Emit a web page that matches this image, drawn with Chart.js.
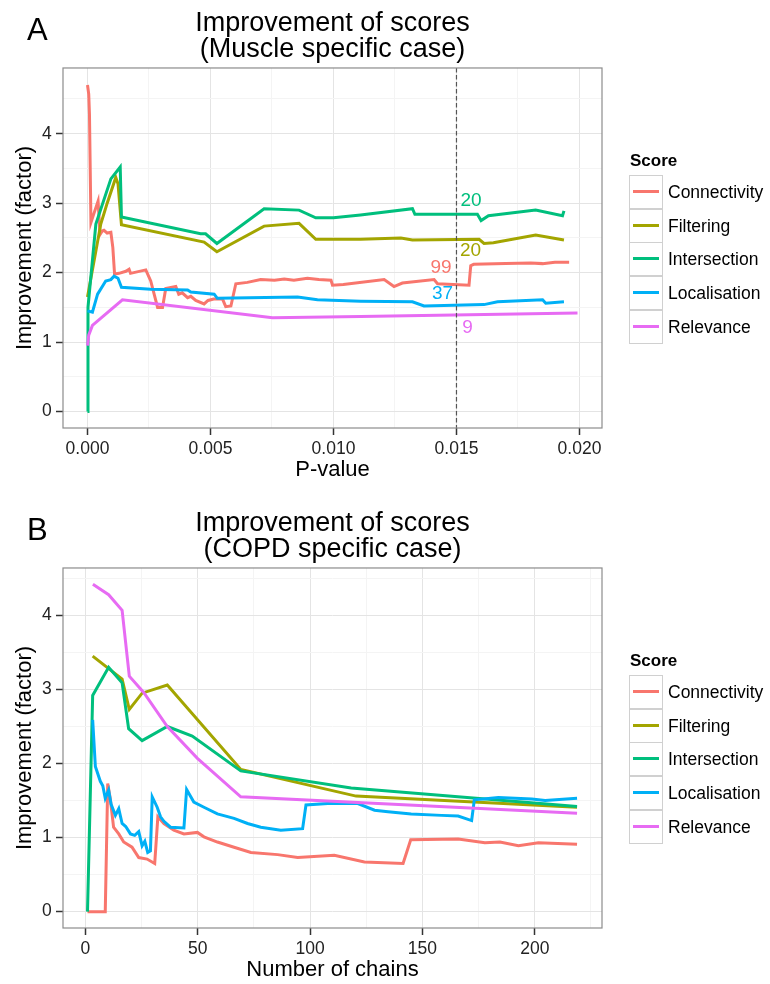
<!DOCTYPE html>
<html>
<head>
<meta charset="utf-8">
<script src="https://cdn.jsdelivr.net/npm/chart.js@4.4.1/dist/chart.umd.min.js"></script>
<style>
    body {
        margin: 0;
        width: 770px;
        height: 984px;
        overflow: hidden;
        background: #fff;
        font-family: "Liberation Sans", Arial, sans-serif;
        position: relative;
    }
    .panel {
        position: absolute;
        left: 0;
        width: 770px;
        height: 490px;
    }
    .panel canvas {
        position: absolute;
        left: 0;
        top: 0;
    }
    .letra {
        position: absolute;
        left: 27px;
        top: 14px;
        font-size: 31px;
        line-height: 31px;
        color: #000;
    }
    .leyenda-titulo {
        position: absolute;
        left: 630px;
        top: 151px;
        font-size: 17px;
        line-height: 20px;
        font-weight: bold;
        color: #000;
    }
    .caja {
        position: absolute;
        left: 629px;
        width: 34px;
        height: 34px;
        box-sizing: border-box;
        border: 1.5px solid #d0d0d0;
        background: #fff;
    }
    .caja span {
        position: absolute;
        left: 3px;
        right: 3px;
        top: 14px;
        height: 3px;
    }
    .etiqueta {
        position: absolute;
        left: 668px;
        font-size: 17.5px;
        line-height: 20px;
        color: #000;
    }
</style>
</head>
<body>

<div class="panel" id="panelA" style="top:0">
    <canvas id="graficaA" width="770" height="490"></canvas>
    <div class="letra">A</div>
</div>

<div class="panel" id="panelB" style="top:500px">
    <canvas id="graficaB" width="770" height="490"></canvas>
    <div class="letra">B</div>
</div>

<script>

/* ===================================== */
/* DATOS */
/* ===================================== */

const seriesNames = ["Connectivity", "Filtering", "Intersection", "Localisation", "Relevance"];

// Panel A: P-value
const connA_x = [0, 0.00005, 0.00008, 0.00014, 0.00027, 0.00043, 0.00051, 0.00060, 0.00067, 0.00080, 0.00095, 0.00103, 0.00110, 0.00128, 0.00156, 0.00169, 0.00175, 0.00237, 0.00257, 0.00285, 0.00305, 0.00318, 0.00359, 0.00371, 0.00385, 0.00407, 0.00420, 0.00440, 0.00474, 0.00490, 0.00513, 0.00549, 0.00562, 0.00583, 0.00603, 0.00650, 0.00704, 0.00760, 0.00800, 0.00839, 0.00894, 0.00940, 0.00990, 0.00996, 0.01040, 0.01206, 0.01246, 0.01280, 0.01409, 0.01423, 0.01551, 0.01558, 0.01570, 0.01700, 0.01802, 0.01850, 0.01900, 0.01958];
const connA_y = [4.70, 4.57, 4.28, 2.72, 2.86, 3.03, 2.55, 2.60, 2.61, 2.57, 2.58, 2.36, 1.98, 1.99, 2.02, 2.05, 1.99, 2.04, 1.88, 1.50, 1.50, 1.77, 1.80, 1.69, 1.71, 1.64, 1.66, 1.60, 1.55, 1.60, 1.62, 1.62, 1.51, 1.52, 1.84, 1.86, 1.90, 1.89, 1.91, 1.89, 1.92, 1.90, 1.89, 1.82, 1.83, 1.90, 1.80, 1.85, 1.90, 1.84, 1.82, 2.10, 2.12, 2.13, 2.14, 2.13, 2.15, 2.15];

const filtA_x = [0, 0.00054, 0.00080, 0.00115, 0.00124, 0.00138, 0.00474, 0.00526, 0.00718, 0.00860, 0.00928, 0.01110, 0.01274, 0.01321, 0.01592, 0.01612, 0.01650, 0.01822, 0.01937];
const filtA_y = [1.65, 2.70, 3.00, 3.37, 3.28, 2.69, 2.44, 2.30, 2.67, 2.71, 2.48, 2.48, 2.50, 2.47, 2.48, 2.42, 2.43, 2.54, 2.47];

const interA_x = [0, 0.00002, 0.00007, 0.00034, 0.00095, 0.00133, 0.00138, 0.00460, 0.00480, 0.00526, 0.00718, 0.00860, 0.00928, 0.01000, 0.01110, 0.01321, 0.01331, 0.01585, 0.01600, 0.01630, 0.01822, 0.01931, 0.01937];
const interA_y = [0, 1.50, 1.69, 2.70, 3.35, 3.52, 2.80, 2.56, 2.56, 2.42, 2.92, 2.90, 2.79, 2.79, 2.83, 2.92, 2.84, 2.84, 2.75, 2.82, 2.90, 2.82, 2.89];

const locA_x = [0, 0.00020, 0.00041, 0.00074, 0.00095, 0.00108, 0.00124, 0.00138, 0.00257, 0.00407, 0.00420, 0.00515, 0.00528, 0.00854, 0.00935, 0.01110, 0.01321, 0.01368, 0.01612, 0.01667, 0.01850, 0.01863, 0.01937];
const locA_y = [1.45, 1.43, 1.69, 1.88, 1.90, 1.95, 1.92, 1.79, 1.76, 1.75, 1.72, 1.69, 1.63, 1.65, 1.61, 1.59, 1.58, 1.52, 1.54, 1.58, 1.61, 1.56, 1.58];

const relA_x = [0, 0.00005, 0.00020, 0.00142, 0.00752, 0.01110, 0.01992];
const relA_y = [0.95, 1.10, 1.24, 1.61, 1.35, 1.37, 1.42];

// corte y conteos en p = 0.015
const cutoffA = 0.015;
const countText = ["99", "20", "20", "37", "9"];
const countX = [0.01437, 0.01557, 0.01559, 0.01443, 0.01545];
const countY = [2.07, 2.31, 3.03, 1.69, 1.21];

// Panel B: numero de cadenas
const connB_x = [1, 8.9, 10, 11.2, 12.6, 14.9, 17.1, 20.8, 23.8, 27.5, 30.9, 32.3, 35, 39.4, 43.9, 49.9, 52.8, 58.8, 66.2, 73.7, 85.6, 94.5, 110.8, 124.2, 141.4, 144.8, 165.9, 177.8, 184.5, 192.7, 201.6, 218.8];
const connB_y = [0, 0, 1.73, 1.51, 1.14, 1.05, 0.94, 0.87, 0.73, 0.71, 0.65, 1.28, 1.19, 1.10, 1.05, 1.07, 1.01, 0.94, 0.87, 0.80, 0.77, 0.73, 0.76, 0.67, 0.65, 0.97, 0.98, 0.93, 0.94, 0.89, 0.93, 0.91];

const filtB_x = [3.3, 16.4, 19.6, 25.3, 36.5, 69.2, 120.5, 218.8];
const filtB_y = [3.45, 3.14, 2.73, 2.95, 3.06, 1.92, 1.56, 1.41];

const interB_x = [1, 3.3, 10.4, 16.4, 19.3, 25.3, 36.5, 47.6, 69.2, 118.3, 218.8];
const interB_y = [0, 2.92, 3.30, 3.09, 2.47, 2.31, 2.50, 2.37, 1.90, 1.67, 1.42];

const locB_x = [3.3, 4.5, 6.7, 7.8, 8.9, 10.4, 11.5, 13.4, 14.9, 16.4, 18.0, 20.1, 22.0, 23.8, 25.3, 26.5, 27.8, 29.0, 29.8, 32, 33.5, 35, 37.9, 43.9, 45.1, 48.3, 52.8, 58.8, 66.2, 72.2, 78.1, 87, 96.7, 98.2, 107.9, 121.3, 128.7, 134.7, 145, 158.5, 165.9, 171.9, 173.1, 183.8, 198.7, 204.6, 218.8];
const locB_y = [2.59, 1.96, 1.76, 1.70, 1.53, 1.64, 1.45, 1.30, 1.39, 1.19, 1.15, 1.05, 1.03, 1.08, 0.89, 0.95, 0.80, 0.82, 1.55, 1.41, 1.28, 1.22, 1.14, 1.13, 1.65, 1.48, 1.41, 1.32, 1.26, 1.19, 1.14, 1.10, 1.12, 1.44, 1.46, 1.46, 1.37, 1.35, 1.32, 1.30, 1.29, 1.23, 1.51, 1.54, 1.52, 1.50, 1.53];

const relB_x = [3.4, 10.4, 16.4, 19.6, 26, 36.5, 49.9, 69.2, 218.8];
const relB_y = [4.42, 4.28, 4.07, 3.18, 2.96, 2.50, 2.07, 1.55, 1.33];

// ticks
const majorA_x = [0, 0.005, 0.010, 0.015, 0.020];
const minorA_x = [0.0025, 0.0075, 0.0125, 0.0175];
const majorB_x = [0, 50, 100, 150, 200];
const minorB_x = [25, 75, 125, 175, 225];
const major_y = [0, 1, 2, 3, 4];
const minor_y = [0.5, 1.5, 2.5, 3.5, 4.5];

/* ===================================== */
/* ESTILO */
/* ===================================== */

const colores = ["#F8766D", "#A3A500", "#00BF7D", "#00B0F6", "#E76BF3"];
const fuente = "'Liberation Sans', Arial, sans-serif";

function puntos(xs, ys) {
    return xs.map((x, i) => ({ x: x, y: ys[i] }));
}

function esMayor(lista, v) {
    return lista.some(m => Math.abs(m - v) < 1e-9);
}

function escala(min, max, mayores, menores, formato, titulo, eje) {

    const todos = mayores.concat(menores).sort((a, b) => a - b);

    return {
        type: "linear",
        min: min,
        max: max,
        afterBuildTicks: (s) => {
            s.ticks = todos.map(v => ({ value: v }));
        },
        afterFit: (s) => {
            if (eje === "x") {
                s.height = 62;
            } else {
                s.width = 63;
            }
        },
        border: { display: false },
        grid: {
            color: (c) => esMayor(mayores, c.tick.value) ? "#e4e4e4" : "#f4f4f4",
            lineWidth: 1,
            drawTicks: true,
            tickLength: 7,
            tickWidth: 1.5,
            tickColor: (c) => esMayor(mayores, c.tick.value) ? "#333" : "rgba(0,0,0,0)"
        },
        ticks: {
            autoSkip: false,
            maxRotation: 0,
            minRotation: 0,
            padding: eje === "x" ? 3.4 : 4.3,
            color: "#222",
            font: { family: fuente, size: 17.5 },
            callback: (v) => esMayor(mayores, v) ? formato(v) : ""
        },
        title: {
            display: true,
            text: titulo,
            color: "#000",
            font: { family: fuente, size: 22 },
            padding: eje === "x" ? { top: 0, bottom: 6.4 } : { top: 11.8, bottom: 0 }
        }
    };
}

const marcoPlugin = {
    id: "marco",
    afterDatasetsDraw(chart, args, opts) {

        const ctx = chart.ctx;
        const area = chart.chartArea;
        const sx = chart.scales.x;
        const sy = chart.scales.y;

        ctx.save();

        if (opts.corte !== undefined) {
            const px = sx.getPixelForValue(opts.corte);
            ctx.strokeStyle = "#555";
            ctx.lineWidth = 1.2;
            ctx.setLineDash([4.5, 2.5]);
            ctx.beginPath();
            ctx.moveTo(px, area.top);
            ctx.lineTo(px, area.bottom);
            ctx.stroke();
            ctx.setLineDash([]);
        }

        if (opts.textos) {
            ctx.font = "19px " + fuente;
            ctx.textAlign = "center";
            ctx.textBaseline = "middle";
            opts.textos.forEach((t, i) => {
                ctx.fillStyle = colores[i];
                ctx.fillText(t, sx.getPixelForValue(opts.tx[i]), sy.getPixelForValue(opts.ty[i]));
            });
        }

        ctx.strokeStyle = "#8c8c8c";
        ctx.lineWidth = 1.2;
        ctx.strokeRect(area.left, area.top, area.right - area.left, area.bottom - area.top);

        ctx.restore();
    }
};

function crearGrafica(id, seriesX, seriesY, escalaX, tituloLineas, opcionesMarco) {

    const ctx = document.getElementById(id).getContext("2d");

    return new Chart(ctx, {
        type: "line",
        data: {
            datasets: seriesNames.map((nombre, i) => ({
                label: nombre,
                data: puntos(seriesX[i], seriesY[i]),
                borderColor: colores[i],
                backgroundColor: colores[i],
                borderWidth: 3,
                pointRadius: 0,
                tension: 0,
                fill: false,
                order: seriesNames.length - i
            }))
        },
        options: {
            responsive: false,
            animation: false,
            layout: {
                padding: { left: 0, right: 168, top: 0, bottom: 0 }
            },
            plugins: {
                legend: { display: false },
                tooltip: { enabled: false },
                title: {
                    display: true,
                    fullSize: false,
                    text: tituloLineas,
                    color: "#000",
                    font: { family: fuente, size: 27, weight: "normal", lineHeight: 0.97 },
                    padding: { top: 10.5, bottom: 5.1 }
                },
                marco: opcionesMarco
            },
            scales: {
                x: escalaX,
                y: escala(opcionesMarco.ymin, opcionesMarco.ymax, major_y, minor_y, v => String(v), "Improvement (factor)", "y")
            }
        },
        plugins: [marcoPlugin]
    });
}

function crearLeyenda(panelId) {

    const panel = document.getElementById(panelId);

    const t = document.createElement("div");
    t.className = "leyenda-titulo";
    t.textContent = "Score";
    panel.appendChild(t);

    seriesNames.forEach((nombre, i) => {

        const top = 175 + i * 33.7;

        const caja = document.createElement("div");
        caja.className = "caja";
        caja.style.top = top + "px";
        const linea = document.createElement("span");
        linea.style.background = colores[i];
        caja.appendChild(linea);
        panel.appendChild(caja);

        const et = document.createElement("div");
        et.className = "etiqueta";
        et.style.top = (top + 7) + "px";
        et.textContent = nombre;
        panel.appendChild(et);
    });
}

/* ===================================== */
/* GRAFICAS */
/* ===================================== */

crearGrafica(
    "graficaA",
    [connA_x, filtA_x, interA_x, locA_x, relA_x],
    [connA_y, filtA_y, interA_y, locA_y, relA_y],
    escala(-0.000996, 0.020916, majorA_x, minorA_x, v => v.toFixed(3), "P-value", "x"),
    ["Improvement of scores", "(Muscle specific case)"],
    { ymin: -0.236, ymax: 4.946, corte: cutoffA, textos: countText, tx: countX, ty: countY }
);

crearGrafica(
    "graficaB",
    [connB_x, filtB_x, interB_x, locB_x, relB_x],
    [connB_y, filtB_y, interB_y, locB_y, relB_y],
    escala(-9.9, 229.9, majorB_x, minorB_x, v => String(v), "Number of chains", "x"),
    ["Improvement of scores", "(COPD specific case)"],
    { ymin: -0.221, ymax: 4.641 }
);

crearLeyenda("panelA");
crearLeyenda("panelB");

</script>
</body>
</html>
